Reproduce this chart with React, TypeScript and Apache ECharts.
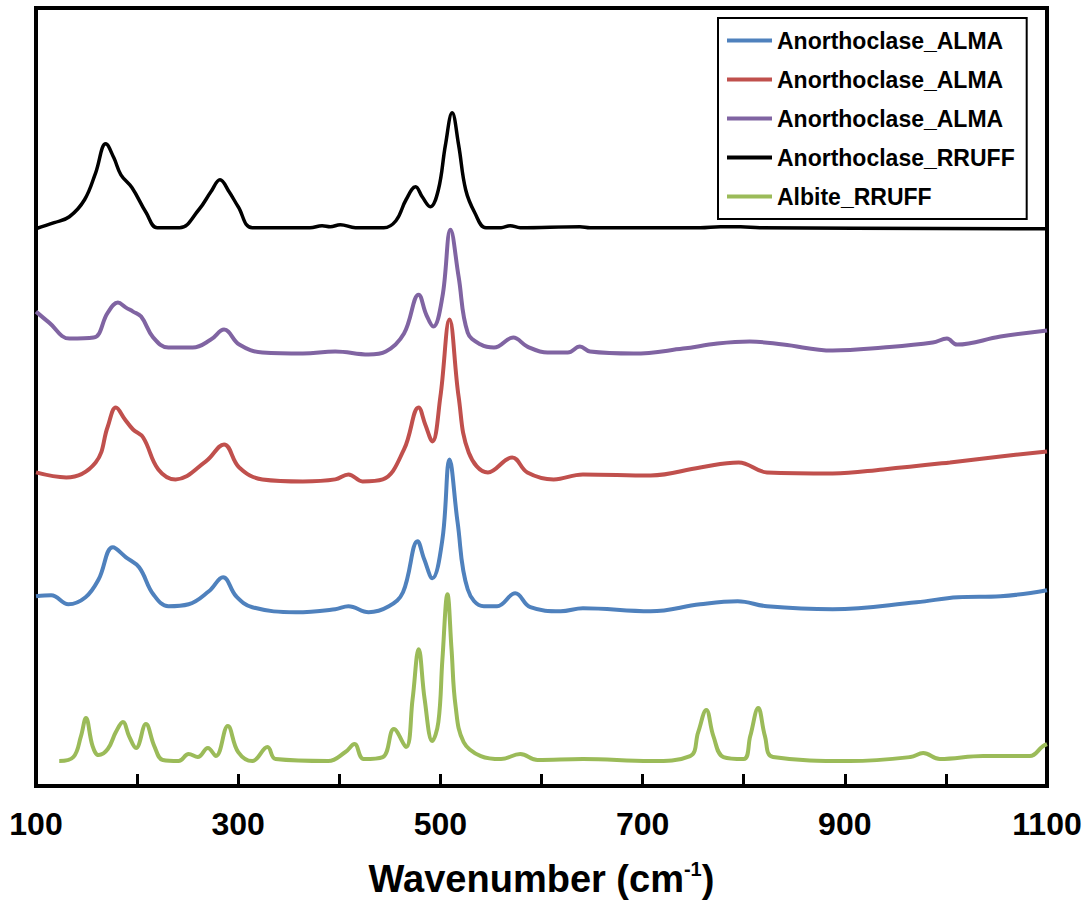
import React, { useEffect, useRef } from "react";
import * as echarts from "echarts";

// x: wavenumber (cm-1), y: offset intensity (arbitrary units)
const xTicks = [100, 200, 300, 400, 500, 600, 700, 800, 900, 1000, 1100];
const xLabels = [100, 300, 500, 700, 900, 1100];
const tickLength = 12; // in y-units (1 unit = 1 px on this y scale)

const seriesNames = [
  "Anorthoclase_ALMA",
  "Anorthoclase_ALMA",
  "Anorthoclase_ALMA",
  "Anorthoclase_RRUFF",
  "Albite_RRUFF",
];

const blueALMA: [number, number][] = [
  [100, 190], [115, 191], [132, 182], [149, 189], [162, 207], [176, 239], [189, 229],
  [202, 219], [216, 192], [231, 180], [251, 182], [271, 195], [285, 209], [298, 190],
  [314, 179], [357, 174], [396, 177], [409, 180], [429, 174], [449, 180], [463, 194],
  [477.5, 245], [484, 227], [492, 208], [502, 247], [509, 327], [517, 264], [527, 197],
  [543, 180], [556, 180], [574, 193], [589, 179], [619, 175], [641, 178], [708, 175],
  [757, 182], [794, 185], [823, 180], [888, 177], [971, 184], [1012, 189], [1054, 190],
  [1100, 196],
];

const redALMA: [number, number][] = [
  [100, 314], [130, 309], [159, 324], [171, 360], [179, 379], [188, 367], [196, 357],
  [206, 349], [221, 317], [238, 307], [268, 325], [286, 342], [301, 319], [324, 307],
  [364, 305], [396, 307], [409, 312], [423, 305], [443, 307], [464, 337], [478.5, 379],
  [485, 362], [492, 345], [500, 390], [509, 467], [518, 390], [528, 334], [547, 314],
  [571, 329], [586, 314], [612, 307], [641, 312], [708, 311], [757, 319], [795, 324],
  [823, 314], [888, 313], [938, 317], [1004, 324], [1054, 330], [1100, 335],
];

const purpleALMA: [number, number][] = [
  [100, 475], [113, 464], [133, 448], [157, 449], [171, 474], [181, 484], [189, 479],
  [196, 475], [204, 470], [216, 449], [231, 439], [255, 439], [273, 447], [286, 457],
  [301, 442], [324, 434], [364, 433], [396, 435], [429, 432], [446, 435], [464, 453],
  [478.5, 492], [486, 472], [493, 460], [502, 490], [510, 557], [518, 510], [527, 454],
  [540, 442], [553, 439], [572, 449], [586, 440], [606, 434], [626, 434], [638, 440],
  [648, 435], [691, 433], [740, 438], [774, 443], [806, 445], [839, 442], [888, 436],
  [938, 439], [987, 444], [1001, 448], [1011, 442], [1054, 450], [1100, 456],
];

const blackRRUFF: [number, number][] = [
  [100, 558], [118, 564], [133, 570], [148, 587], [159, 614], [169, 643], [177, 629],
  [184, 612], [195, 599], [209, 574], [220, 559], [242, 559], [261, 577], [273, 595],
  [282, 607], [291, 595], [300, 580], [314, 559], [371, 559], [383, 561], [391, 560],
  [401, 562], [416, 559], [444, 559], [456, 566], [466, 587], [475.5, 600], [482, 590],
  [490, 580], [498, 597], [505, 642], [511.6, 674], [518, 642], [525, 597], [534, 574],
  [545, 559], [560, 559], [569, 561], [579, 559], [638, 560], [648, 559], [757, 559],
  [777, 560], [797, 560], [816, 559], [1100, 558],
];

const greenAlbite: [number, number][] = [
  [123, 25], [137, 29], [144.5, 50], [149.4, 68], [156, 40], [162, 31], [171, 37],
  [179, 54], [186, 64], [192, 50], [199, 38], [208.7, 62], [217, 40], [225.5, 26],
  [241, 25], [251, 32], [260, 29], [270, 38], [278, 30], [289.7, 60], [300, 34],
  [314, 25], [329, 39], [337, 27], [389, 25], [406, 34], [415, 42], [424, 27],
  [443, 29], [454, 57], [466, 39], [472.5, 87], [478.5, 137], [484.4, 87], [492, 45],
  [498, 64], [502, 127], [507, 192], [511, 137], [515, 80], [523, 44], [540, 30],
  [560, 27], [579, 32], [596, 26], [641, 27], [708, 25], [747, 30], [755, 54],
  [763, 76], [770, 50], [780, 29], [800, 27], [806.5, 50], [814.4, 78], [821, 50],
  [829, 29], [905, 25], [965, 29], [977.5, 33], [994, 27], [1037, 30], [1083, 30],
  [1096, 40], [1100, 42],
];

const seriesData = [blueALMA, redALMA, purpleALMA, blackRRUFF, greenAlbite];
const seriesColors = ["#4F81BD", "#C0504D", "#8064A2", "#000000", "#9BBB59"];
const seriesWidths = [4, 4, 4, 3.5, 4];

export default function App() {
  const ref = useRef<HTMLDivElement>(null);

  useEffect(() => {
    if (!ref.current) return;
    const chart = echarts.init(ref.current, undefined, { renderer: "svg" });
    const font = "'Liberation Sans', Arial, sans-serif";
    const lineSeries: any[] = seriesData.map((d, i) => ({
      name: seriesNames[i] + "\u200b".repeat(i),
      type: "line",
      data: d,
      symbol: "none",
      smooth: 0.4,
      color: seriesColors[i],
      lineStyle: { color: seriesColors[i], width: seriesWidths[i] },
      z: i === 3 ? 3 : 2,
    }));
    // inward tick marks on the bottom axis, drawn through the axes' scales
    lineSeries[4].markLine = {
      silent: true,
      symbol: ["none", "none"],
      label: { show: false },
      lineStyle: { color: "#000", width: 3, type: "solid" },
      emphasis: { disabled: true },
      data: xTicks.map((t) => [{ coord: [t, 0] }, { coord: [t, tickLength] }]),
    };
    chart.setOption({
      animation: false,
      backgroundColor: "#ffffff",
      grid: {
        left: 36,
        right: 42,
        top: 8,
        bottom: 116,
        show: true,
        borderColor: "#000",
        borderWidth: 4,
      },
      legend: {
        orient: "vertical",
        left: 718,
        top: 18,
        padding: [11, 12, 11, 9],
        itemGap: 16,
        itemWidth: 45,
        itemHeight: 4,
        icon: "rect",
        borderColor: "#000",
        borderWidth: 2,
        backgroundColor: "#fff",
        textStyle: {
          fontFamily: font,
          fontWeight: "bold",
          fontSize: 23,
          color: "#000",
        },
        data: seriesNames.map((n, i) => ({ name: n + "\u200b".repeat(i) })),
      },
      xAxis: {
        type: "value",
        min: xTicks[0],
        max: xTicks[xTicks.length - 1],
        interval: 100,
        axisLine: { show: true, onZero: false, lineStyle: { color: "#000", width: 4 } },
        axisTick: { show: true, inside: true, length: 12, lineStyle: { color: "#000", width: 3 } },
        splitLine: { show: false },
        axisLabel: {
          show: true,
          margin: 22,
          color: "#000",
          fontFamily: font,
          fontWeight: "bold",
          fontSize: 32,
          formatter: (v: number) => (xLabels.indexOf(v) >= 0 ? String(v) : ""),
        },
        name: "{a|Wavenumber (cm}{b|-1}{a|)}",
        nameLocation: "middle",
        nameGap: 73,
        nameTextStyle: {
          rich: {
            a: { fontFamily: font, fontWeight: "bold", fontSize: 38, color: "#000", lineHeight: 40 },
            b: { fontFamily: font, fontWeight: "bold", fontSize: 20, color: "#000", lineHeight: 40, verticalAlign: "top", padding: [0, 0, 14, 0] },
          },
        },
      },
      yAxis: {
        type: "value",
        min: 0,
        max: 779,
        axisLine: { show: false },
        axisTick: { show: false },
        axisLabel: { show: false },
        splitLine: { show: false },
      },
      series: lineSeries,
    });

    return () => chart.dispose();
  }, []);

  return (
    <div
      ref={ref}
      style={{ position: "fixed", left: 0, top: 0, width: 1089, height: 903 }}
    />
  );
}
